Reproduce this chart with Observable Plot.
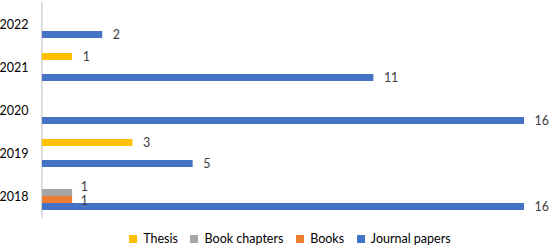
<!DOCTYPE html>
<html>
<head>
<meta charset="utf-8">
<script src="https://cdn.jsdelivr.net/npm/d3@7"></script>
<script src="https://cdn.jsdelivr.net/npm/@observablehq/plot@0.6"></script>
<style>
  html, body { margin: 0; padding: 0; background: #fff; }
  body { width: 550px; height: 247px; overflow: hidden; font-family: Lato, "Open Sans", sans-serif; }
</style>
</head>
<body>
<div id="chart"></div>
<script>
const years = ["2018", "2019", "2020", "2021", "2022"];
const seriesNames = ["Thesis", "Book chapters", "Books", "Journal papers"];
const seriesColors = ["#FFC000", "#A5A5A5", "#ED7D31", "#4472C4"];
const journalPapers = [16, 5, 16, 11, 2];
const books = [1, 0, 0, 0, 0];
const bookChapters = [1, 0, 0, 0, 0];
const thesis = [0, 3, 0, 1, 0];

const seriesValues = {
  "Thesis": thesis,
  "Book chapters": bookChapters,
  "Books": books,
  "Journal papers": journalPapers
};
const table = [];
years.forEach((year, i) => {
  seriesNames.forEach(s => {
    const v = seriesValues[s][i];
    if (v > 0) table.push({year, series: s, value: v});
  });
});
const axisRows = years.map(year => ({year, value: 0}));

const labelOpts = (filter, dx, dy) => ({
  filter, x: "value", y: "series", fy: "year", text: d => String(d.value),
  textAnchor: "start", dx, dy, fill: "#404040", fontSize: 12.5
});

const plot = Plot.plot({
  width: 550,
  height: 222,
  marginLeft: 42,
  marginRight: 26,
  marginTop: 2,
  marginBottom: 5,
  style: {fontFamily: "Lato, 'Open Sans', sans-serif", fontSize: "12px", background: "#fff"},
  x: {domain: [0, 16], axis: null},
  y: {domain: seriesNames, padding: 0, axis: null},
  fy: {domain: years.slice().reverse(), paddingInner: 0.35, paddingOuter: 0.175},
  color: {domain: seriesNames, range: seriesColors},
  marks: [
    Plot.axisFy({anchor: "left", tickSize: 0, tickPadding: 14, label: null, fontSize: 12.5, color: "#000"}),
    Plot.ruleX(axisRows, {x: "value", fy: "year", stroke: "#c8c8c8", strokeWidth: 1.2, insetTop: -8, insetBottom: -8, dx: -0.6}),
    Plot.barX(table, {x: "value", y: "series", fy: "year", fill: "series"}),
    Plot.text(table, labelOpts(d => d.series !== "Book chapters" && d.series !== "Books", 10, 0)),
    Plot.text(table, labelOpts(d => d.series === "Book chapters", 8, -6)),
    Plot.text(table, labelOpts(d => d.series === "Books", 8, 1))
  ]
});

const legend = plot.legend("color", {swatchSize: 8, swatchWidth: 8, swatchHeight: 8});
legend.style.justifyContent = "center";
legend.style.marginLeft = "42px";
legend.style.fontSize = "12.5px";
legend.style.fontFamily = "Lato, 'Open Sans', sans-serif";
legend.style.color = "#000";

const root = document.getElementById("chart");
root.appendChild(plot);
root.appendChild(legend);
</script>
</body>
</html>
